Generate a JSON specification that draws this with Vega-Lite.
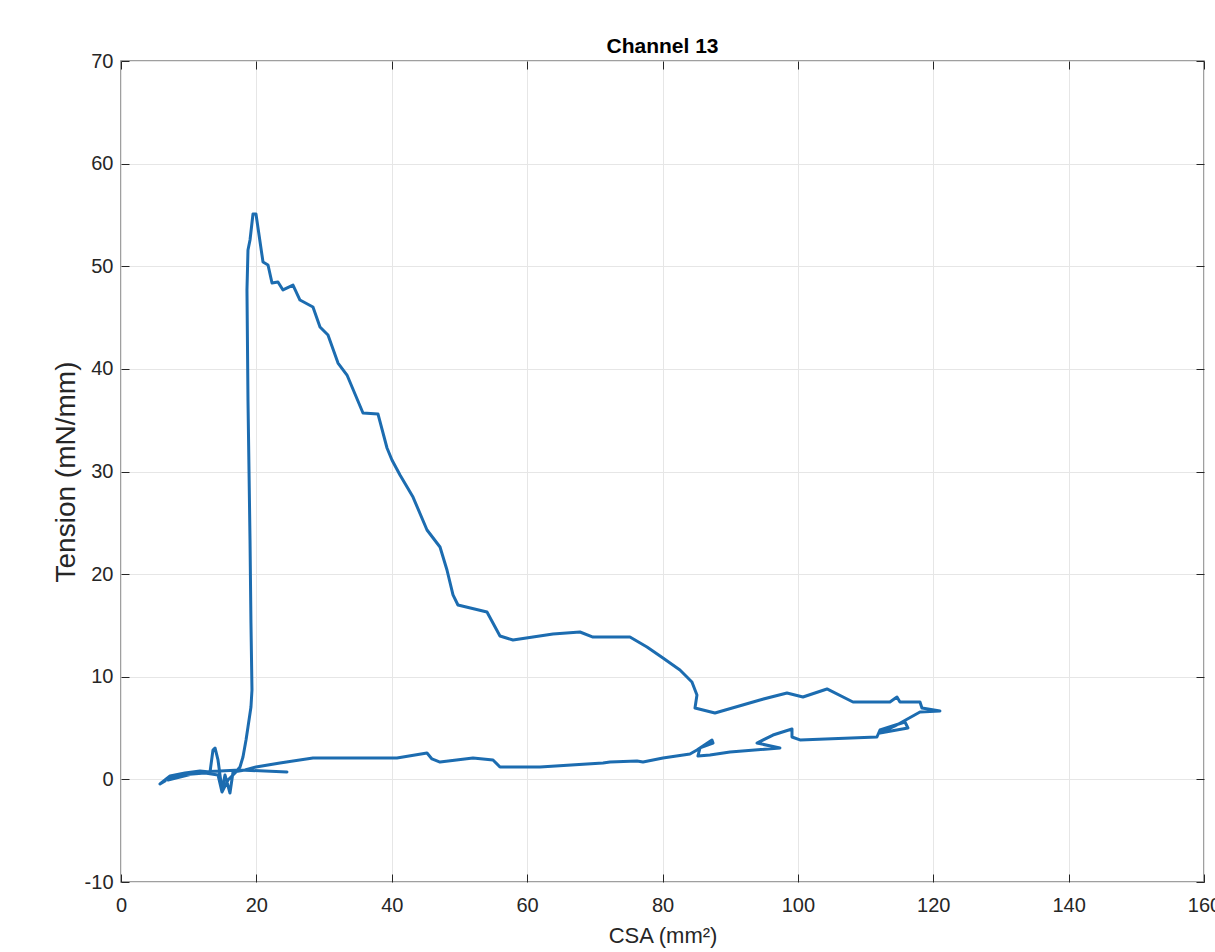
{
  "$schema": "https://vega.github.io/schema/vega-lite/v6.json",
  "width": 1083,
  "height": 821,
  "autosize": {"type": "none"},
  "padding": {"left": 121, "top": 61, "right": 11, "bottom": 70},
  "background": "white",
  "config": {
    "font": "Liberation Sans",
    "view": {"stroke": "#808080", "strokeWidth": 1.5},
    "axis": {
      "gridColor": "#e6e6e6",
      "gridOpacity": 1,
      "gridWidth": 1,
      "domain": false,
      "tickColor": "#262626",
      "tickWidth": 1,
      "labelColor": "#262626",
      "labelFontSize": 20,
      "titleFontSize": 20,
      "titleFontWeight": "normal",
      "titleColor": "#262626"
    }
  },
  "title": {"text": "Channel 13", "fontSize": 21, "fontWeight": "bold", "color": "#000000", "offset": -6},
  "data": {
    "values": [
      {"i": 1, "x": 6.50, "y": -0.16},
      {"i": 2, "x": 5.76, "y": -0.45},
      {"i": 3, "x": 7.24, "y": 0.33},
      {"i": 4, "x": 9.45, "y": 0.62},
      {"i": 5, "x": 11.67, "y": 0.81},
      {"i": 6, "x": 13.15, "y": 0.72},
      {"i": 7, "x": 13.59, "y": 2.86},
      {"i": 8, "x": 13.89, "y": 3.06},
      {"i": 9, "x": 14.33, "y": 1.89},
      {"i": 10, "x": 14.92, "y": -1.04},
      {"i": 11, "x": 15.36, "y": 0.43},
      {"i": 12, "x": 16.10, "y": -1.33},
      {"i": 13, "x": 16.55, "y": 0.72},
      {"i": 14, "x": 18.32, "y": 0.91},
      {"i": 15, "x": 19.94, "y": 1.21},
      {"i": 16, "x": 23.49, "y": 1.60},
      {"i": 17, "x": 28.36, "y": 2.08},
      {"i": 18, "x": 34.27, "y": 2.08},
      {"i": 19, "x": 40.77, "y": 2.08},
      {"i": 20, "x": 45.21, "y": 2.57},
      {"i": 21, "x": 45.94, "y": 1.99},
      {"i": 22, "x": 47.13, "y": 1.69},
      {"i": 23, "x": 52.00, "y": 2.08},
      {"i": 24, "x": 54.96, "y": 1.89},
      {"i": 25, "x": 55.99, "y": 1.21},
      {"i": 26, "x": 61.90, "y": 1.21},
      {"i": 27, "x": 71.21, "y": 1.60},
      {"i": 28, "x": 72.24, "y": 1.69},
      {"i": 29, "x": 76.23, "y": 1.79},
      {"i": 30, "x": 77.12, "y": 1.69},
      {"i": 31, "x": 80.07, "y": 2.08},
      {"i": 32, "x": 84.06, "y": 2.47},
      {"i": 33, "x": 85.09, "y": 2.86},
      {"i": 34, "x": 87.31, "y": 3.84},
      {"i": 35, "x": 87.46, "y": 3.54},
      {"i": 36, "x": 85.54, "y": 3.06},
      {"i": 37, "x": 85.24, "y": 2.28},
      {"i": 38, "x": 87.01, "y": 2.38},
      {"i": 39, "x": 89.97, "y": 2.67},
      {"i": 40, "x": 97.35, "y": 3.06},
      {"i": 41, "x": 93.96, "y": 3.54},
      {"i": 42, "x": 96.32, "y": 4.32},
      {"i": 43, "x": 99.13, "y": 4.91},
      {"i": 44, "x": 99.13, "y": 4.13},
      {"i": 45, "x": 100.31, "y": 3.84},
      {"i": 46, "x": 111.68, "y": 4.13},
      {"i": 47, "x": 112.13, "y": 4.81},
      {"i": 48, "x": 115.82, "y": 5.59},
      {"i": 49, "x": 116.26, "y": 5.01},
      {"i": 50, "x": 112.13, "y": 4.52},
      {"i": 51, "x": 114.34, "y": 5.20},
      {"i": 52, "x": 118.04, "y": 6.57},
      {"i": 53, "x": 120.99, "y": 6.66},
      {"i": 54, "x": 118.33, "y": 6.95},
      {"i": 55, "x": 118.04, "y": 7.54},
      {"i": 56, "x": 115.08, "y": 7.54},
      {"i": 57, "x": 114.64, "y": 8.03},
      {"i": 58, "x": 113.60, "y": 7.54},
      {"i": 59, "x": 108.14, "y": 7.54},
      {"i": 60, "x": 104.30, "y": 8.81},
      {"i": 61, "x": 100.75, "y": 8.03},
      {"i": 62, "x": 98.39, "y": 8.42},
      {"i": 63, "x": 94.40, "y": 7.74},
      {"i": 64, "x": 87.75, "y": 6.47},
      {"i": 65, "x": 84.80, "y": 6.95},
      {"i": 66, "x": 85.09, "y": 8.22},
      {"i": 67, "x": 84.35, "y": 9.49},
      {"i": 68, "x": 82.58, "y": 10.66},
      {"i": 69, "x": 80.07, "y": 11.83},
      {"i": 70, "x": 77.71, "y": 12.90},
      {"i": 71, "x": 75.19, "y": 13.87},
      {"i": 72, "x": 69.73, "y": 13.87},
      {"i": 73, "x": 67.81, "y": 14.36},
      {"i": 74, "x": 63.82, "y": 14.17},
      {"i": 75, "x": 60.86, "y": 13.87},
      {"i": 76, "x": 57.91, "y": 13.58},
      {"i": 77, "x": 55.99, "y": 13.97},
      {"i": 78, "x": 54.07, "y": 16.31},
      {"i": 79, "x": 49.78, "y": 16.99},
      {"i": 80, "x": 49.05, "y": 17.97},
      {"i": 81, "x": 48.16, "y": 20.40},
      {"i": 82, "x": 47.13, "y": 22.64},
      {"i": 83, "x": 45.21, "y": 24.30},
      {"i": 84, "x": 43.14, "y": 27.51},
      {"i": 85, "x": 41.22, "y": 29.66},
      {"i": 86, "x": 40.03, "y": 31.12},
      {"i": 87, "x": 39.30, "y": 32.29},
      {"i": 88, "x": 37.97, "y": 35.60},
      {"i": 89, "x": 35.75, "y": 35.70},
      {"i": 90, "x": 33.39, "y": 39.40},
      {"i": 91, "x": 32.06, "y": 40.57},
      {"i": 92, "x": 30.58, "y": 43.30},
      {"i": 93, "x": 29.40, "y": 44.08},
      {"i": 94, "x": 28.36, "y": 46.03},
      {"i": 95, "x": 26.44, "y": 46.71},
      {"i": 96, "x": 25.41, "y": 48.17},
      {"i": 97, "x": 23.93, "y": 47.69},
      {"i": 98, "x": 23.19, "y": 48.47},
      {"i": 99, "x": 22.31, "y": 48.37},
      {"i": 100, "x": 21.72, "y": 50.12},
      {"i": 101, "x": 20.98, "y": 50.41},
      {"i": 102, "x": 19.94, "y": 55.09},
      {"i": 103, "x": 19.50, "y": 55.09},
      {"i": 104, "x": 19.06, "y": 52.56},
      {"i": 105, "x": 18.76, "y": 51.58},
      {"i": 106, "x": 18.61, "y": 47.69},
      {"i": 107, "x": 18.76, "y": 36.97},
      {"i": 108, "x": 19.06, "y": 23.33},
      {"i": 109, "x": 19.20, "y": 15.24},
      {"i": 110, "x": 19.35, "y": 8.71},
      {"i": 111, "x": 19.20, "y": 7.05},
      {"i": 112, "x": 18.76, "y": 5.10},
      {"i": 113, "x": 18.47, "y": 3.84},
      {"i": 114, "x": 18.02, "y": 2.18},
      {"i": 115, "x": 17.58, "y": 1.21},
      {"i": 116, "x": 16.84, "y": 0.62},
      {"i": 117, "x": 15.81, "y": -0.06},
      {"i": 118, "x": 14.92, "y": -1.23},
      {"i": 119, "x": 14.33, "y": 0.43},
      {"i": 120, "x": 12.41, "y": 0.62},
      {"i": 121, "x": 8.72, "y": 0.43},
      {"i": 122, "x": 6.94, "y": -0.06},
      {"i": 123, "x": 11.67, "y": 0.72},
      {"i": 124, "x": 17.58, "y": 0.91},
      {"i": 125, "x": 24.52, "y": 0.72}
    ]
  },
  "resolve": {"axis": {"x": "independent", "y": "independent"}},
  "layer": [
    {
      "mark": {"type": "line", "color": "#1c6cb0", "strokeWidth": 3, "strokeJoin": "round", "strokeCap": "round"},
      "encoding": {
        "x": {
          "field": "x", "type": "quantitative",
          "scale": {"domain": [0, 160], "nice": false, "zero": false},
          "axis": {"orient": "bottom", "values": [0, 20, 40, 60, 80, 100, 120, 140, 160], "title": "CSA  (mm²)", "tickSize": -8, "labelPadding": 21, "titleFontSize": 22, "titlePadding": 10, "grid": true, "labelFlush": false, "labelOverlap": false}
        },
        "y": {
          "field": "y", "type": "quantitative",
          "scale": {"domain": [-10, 70], "nice": false, "zero": false},
          "axis": {"orient": "left", "values": [-10, 0, 10, 20, 30, 40, 50, 60, 70], "labelExpr": "toString(datum.value)", "title": "Tension (mN/mm)", "titleFontSize": 28, "tickSize": -8, "labelPadding": 16, "titlePadding": 4, "grid": true, "labelFlush": false, "labelOverlap": false}
        },
        "order": {"field": "i", "type": "quantitative"}
      }
    },
    {
      "mark": {"type": "line", "opacity": 0},
      "encoding": {
        "x": {
          "field": "x", "type": "quantitative",
          "axis": {"orient": "top", "values": [0, 20, 40, 60, 80, 100, 120, 140, 160], "labels": false, "title": null, "grid": false, "tickSize": -8}
        },
        "y": {
          "field": "y", "type": "quantitative",
          "axis": {"orient": "right", "values": [-10, 0, 10, 20, 30, 40, 50, 60, 70], "labels": false, "title": null, "grid": false, "tickSize": -8}
        },
        "order": {"field": "i", "type": "quantitative"}
      }
    }
  ]
}
